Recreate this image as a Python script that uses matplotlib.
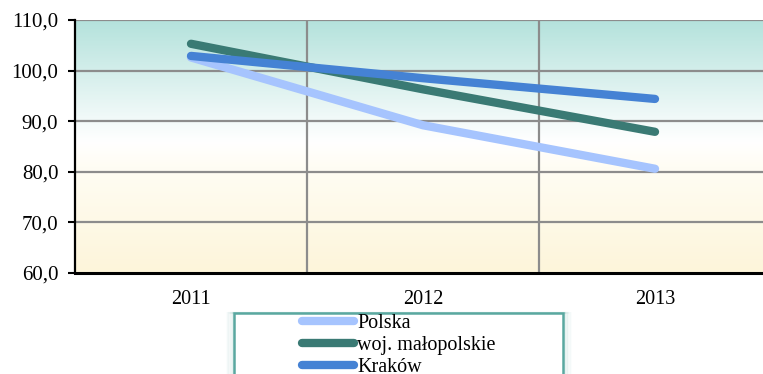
import numpy as np
import matplotlib
matplotlib.use("Agg")
import matplotlib.pyplot as plt
from matplotlib.colors import LinearSegmentedColormap
from matplotlib.patches import Rectangle

# Data
years = ["2011", "2012", "2013"]
polska = [102.6, 89.2, 80.6]
malopolskie = [105.3, 96.3, 87.9]
krakow = [102.9, 98.5, 94.4]
series_names = ["Polska", "woj. małopolskie", "Kraków"]
series_colors = ["#a6c4fe", "#3a7a74", "#4582d4"]
y_ticks = [60, 70, 80, 90, 100, 110]

plt.rcParams["font.family"] = ["Liberation Serif", "DejaVu Serif"]

W, H = 763, 374
fig = plt.figure(figsize=(W / 100, H / 100), dpi=100)

# axes geometry in pixels (the plot area runs past the right edge)
ax_l, ax_r, ax_t, ax_b = 75, 771, 20, 273
ax = fig.add_axes([ax_l / W, 1 - ax_b / H, (ax_r - ax_l) / W, (ax_b - ax_t) / H])

x = np.arange(len(years))
ax.set_xlim(-0.5, len(years) - 0.5)
ax.set_ylim(y_ticks[0], y_ticks[-1])

# vertical gradient background: teal at the top, white in the middle, cream at the bottom
grad_cmap = LinearSegmentedColormap.from_list(
    "bg",
    [(0.0, "#fdf5da"), (0.42, "#fffdf4"), (0.52, "#ffffff"),
     (0.62, "#f0f9f8"), (1.0, "#b4e2dc")])
grad = np.linspace(0, 1, 256).reshape(-1, 1)
ax.imshow(grad, cmap=grad_cmap, aspect="auto", origin="lower",
          extent=(-0.5, len(years) - 0.5, y_ticks[0], y_ticks[-1]), zorder=0)

# grid
for yv in y_ticks[1:]:
    ax.axhline(yv, color="#8c8c8c", lw=1.6, zorder=1)
for xv in np.arange(0.5, len(years) - 0.5, 1.0):
    ax.axvline(xv, color="#8c8c8c", lw=1.6, zorder=1)

for vals, name, col in zip([polska, malopolskie, krakow], series_names, series_colors):
    ax.plot(x, vals, color=col, lw=6, solid_capstyle="round",
            solid_joinstyle="round", label=name, zorder=3)

for side in ["top", "right"]:
    ax.spines[side].set_visible(False)
ax.spines["left"].set_linewidth(1.6)
ax.spines["bottom"].set_linewidth(2.2)
ax.spines["left"].set_zorder(4)
ax.spines["bottom"].set_zorder(4)

ax.set_yticks(y_ticks)
ax.set_yticklabels([f"{v:.1f}".replace(".", ",") for v in y_ticks], fontsize=15)
ax.tick_params(axis="y", length=5, width=1.5, pad=7)
ax.set_xticks(x)
ax.set_xticklabels(years, fontsize=14.5)
ax.tick_params(axis="x", length=0, pad=12)

# legend box with a soft glow
lx0, lx1, ly0 = 234, 563.5, 313
for i, a in enumerate([0.14, 0.09, 0.06, 0.04, 0.02]):
    d = 1.5 * (i + 1)
    fig.patches.append(Rectangle(((lx0 - d) / W, -0.1), (lx1 - lx0 + 2 * d) / W,
                                 1.1 - ly0 / H,
                                 transform=fig.transFigure, facecolor="none",
                                 edgecolor="#5aa8a0", lw=1.5, alpha=a, zorder=1))
fig.patches.append(Rectangle((lx0 / W, -0.1), (lx1 - lx0) / W, 1.1 - ly0 / H,
                             transform=fig.transFigure, facecolor="white",
                             edgecolor="#5aa8a0", lw=1.8, zorder=2))

handles, labels = ax.get_legend_handles_labels()
leg = fig.legend(handles, labels, loc="upper left",
                 bbox_to_anchor=(302 / W, 1 - 314 / H),
                 frameon=False, fontsize=14.5, handlelength=2.6,
                 handletextpad=0.15, labelspacing=0.15, borderpad=0.0,
                 borderaxespad=0.0)
leg.set_zorder(5)

fig.savefig("out.png", dpi=100)
